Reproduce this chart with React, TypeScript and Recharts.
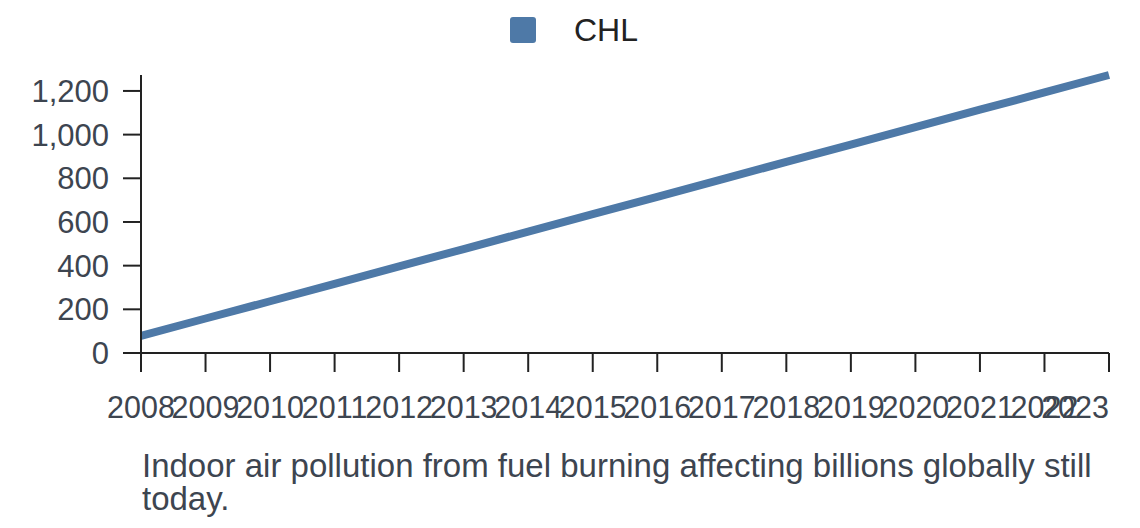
import React from 'react';
import { LineChart, Line, XAxis, YAxis, Legend } from 'recharts';

const years = [2008, 2009, 2010, 2011, 2012, 2013, 2014, 2015, 2016, 2017, 2018, 2019, 2020, 2021, 2022, 2023];
const chlValues = [78, 158, 237, 317, 397, 476, 556, 636, 715, 795, 875, 954, 1034, 1114, 1193, 1273];
const yTicks = [0, 200, 400, 600, 800, 1000, 1200];
const seriesName = 'CHL';
const caption = 'Indoor air pollution from fuel burning affecting billions globally still today.';

const data = years.map((year, i) => ({ year, CHL: chlValues[i] }));

const FONT = '"Liberation Sans", Arial, sans-serif';
const LINE_COLOR = '#4e79a7';
const TEXT_COLOR = '#3d4550';
const AXIS_COLOR = '#222';

const XTick = ({ x, y, payload }: any) => {
  const last = payload.value === years[years.length - 1];
  return (
    <text
      x={x}
      y={y + 22}
      dy="0.71em"
      textAnchor={last ? 'end' : 'middle'}
      fontSize={30.5}
      fontFamily={FONT}
      fill={TEXT_COLOR}
    >
      {payload.value}
    </text>
  );
};

const YTick = ({ x, y, payload }: any) => (
  <text
    x={x - 12}
    y={y}
    dy="0.355em"
    textAnchor="end"
    fontSize={31}
    fontFamily={FONT}
    fill={TEXT_COLOR}
  >
    {payload.value.toLocaleString('en-US')}
  </text>
);

const LegendContent = () => (
  <div style={{ display: 'flex', justifyContent: 'center', alignItems: 'center', height: 0, overflow: 'visible' }}>
    <div style={{ display: 'flex', alignItems: 'center', position: 'relative', top: 30, left: 4 }}>
      <span style={{ width: 26, height: 26, background: LINE_COLOR, borderRadius: 3, display: 'inline-block' }} />
      <span style={{ marginLeft: 38, fontSize: 32, fontFamily: FONT, color: '#222' }}>{seriesName}</span>
    </div>
  </div>
);

export default function App() {
  return (
    <div style={{ position: 'relative', width: 1140, height: 528, background: '#fff', overflow: 'hidden' }}>
      <style>{`body{margin:0;}`}</style>
      <LineChart
        width={1140}
        height={528}
        data={data}
        margin={{ top: 75, right: 31, left: 41, bottom: 105 }}
      >
        <Legend
          verticalAlign="top"
          content={<LegendContent />}
          wrapperStyle={{ position: 'absolute', top: 0, left: 0, width: 1140, height: 0 }}
        />
        <XAxis
          dataKey="year"
          type="number"
          domain={[2008, 2023]}
          ticks={years}
          interval={0}
          height={70}
          tickSize={19}
          axisLine={{ stroke: AXIS_COLOR, strokeWidth: 2 }}
          tickLine={{ stroke: AXIS_COLOR, strokeWidth: 2 }}
          tick={<XTick />}
        />
        <YAxis
          type="number"
          domain={[0, 'dataMax']}
          ticks={yTicks}
          interval={0}
          width={100}
          tickSize={18}
          axisLine={{ stroke: AXIS_COLOR, strokeWidth: 2 }}
          tickLine={{ stroke: AXIS_COLOR, strokeWidth: 2 }}
          tick={<YTick />}
        />
        <Line
          type="linear"
          dataKey="CHL"
          name={seriesName}
          stroke={LINE_COLOR}
          strokeWidth={8}
          dot={false}
          isAnimationActive={false}
        />
      </LineChart>
      <div
        style={{
          position: 'absolute',
          left: 142,
          top: 449,
          width: 970,
          fontSize: 33,
          lineHeight: '33px',
          fontFamily: FONT,
          color: TEXT_COLOR,
        }}
      >
        {caption}
      </div>
    </div>
  );
}
